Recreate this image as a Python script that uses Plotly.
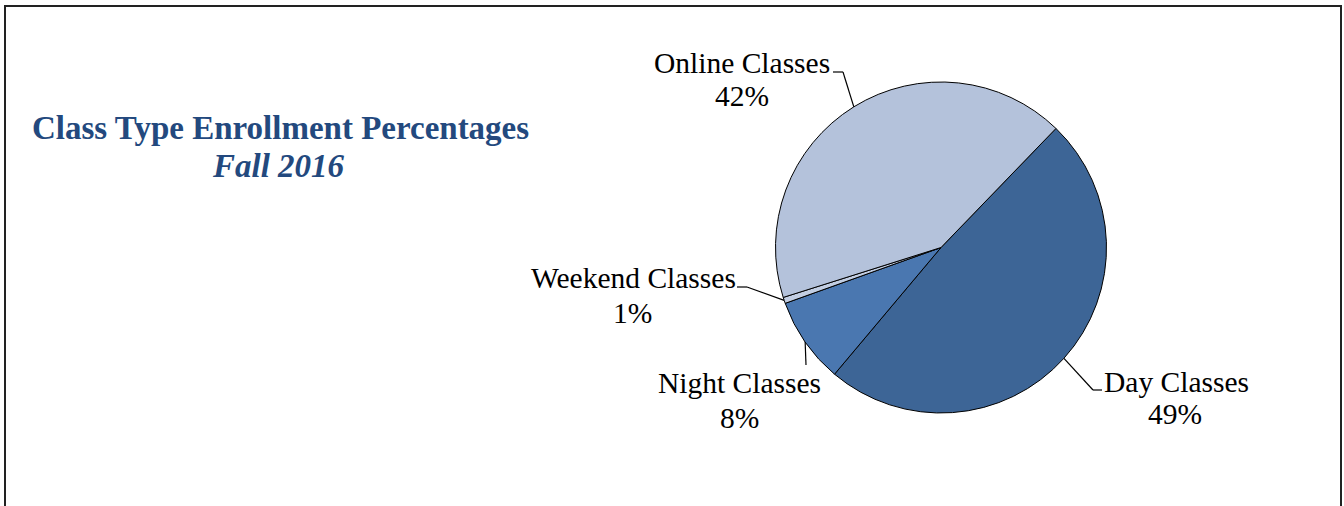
import math
import plotly.graph_objects as go

# ---- data ----
categories = ["Day Classes", "Night Classes", "Weekend Classes", "Online Classes"]
values = [48.9, 8.4, 0.6, 42.1]
colors = ["#3D6596", "#4A77B0", "#C2CEE3", "#B4C2DB"]
title_line1 = "Class Type Enrollment Percentages"
title_line2 = "Fall 2016"

# ---- layout constants (pixels) ----
W, H = 1344, 506
CX, CY, R = 941, 247.5, 165.5
START_ANGLE = 44.0  # degrees clockwise from 12 o'clock

def px(x):
    return x / W

def py(y):
    return 1 - y / H

# label placement (pixel centres) and leader-line elbows
label_pos = {
    "Day Classes": dict(name=(1176.5, 382), pct=(1175, 414), elbow=[(1093, 390), (1102, 390)]),
    "Night Classes": dict(name=(739.5, 383), pct=(739.5, 418), elbow=[(806, 365)]),
    "Weekend Classes": dict(name=(633, 278), pct=(632.5, 313), elbow=[(747, 287), (737, 287)]),
    "Online Classes": dict(name=(742.5, 63), pct=(741.5, 96), elbow=[(843, 72), (833, 72)]),
}

fig = go.Figure()
fig.add_trace(go.Pie(
    labels=categories,
    values=values,
    sort=False,
    direction="clockwise",
    rotation=START_ANGLE,
    marker=dict(colors=colors, line=dict(color="#000000", width=1)),
    textinfo="none",
    hoverinfo="label+percent",
    showlegend=False,
    domain=dict(x=[px(CX - R), px(CX + R)], y=[py(CY + R), py(CY - R)]),
))

annotations = []
shapes = []
font_lbl = dict(family="Liberation Serif", size=29.5, color="#000000")
total = sum(values)
cum = 0.0
for cat, v in zip(categories, values):
    mid = START_ANGLE + (cum + v / 2) / total * 360.0
    cum += v
    a = math.radians(mid)
    ex, ey = CX + R * math.sin(a), CY - R * math.cos(a)
    lp = label_pos[cat]
    pts = [(ex, ey)] + lp["elbow"]
    for (x0, y0), (x1, y1) in zip(pts[:-1], pts[1:]):
        shapes.append(dict(type="line", xref="paper", yref="paper",
                           x0=px(x0), y0=py(y0), x1=px(x1), y1=py(y1),
                           line=dict(color="#000000", width=1.2)))
    annotations.append(dict(text=cat, x=px(lp["name"][0]), y=py(lp["name"][1]),
                            xref="paper", yref="paper", xanchor="center", yanchor="middle",
                            showarrow=False, font=font_lbl))
    annotations.append(dict(text=f"{round(v)}%", x=px(lp["pct"][0]), y=py(lp["pct"][1]),
                            xref="paper", yref="paper", xanchor="center", yanchor="middle",
                            showarrow=False, font=font_lbl))

font_title = dict(family="Liberation Serif", size=33, color="#23497E")
annotations.append(dict(text=f"<b>{title_line1}</b>", x=px(280.5), y=py(127.5),
                        xref="paper", yref="paper", xanchor="center", yanchor="middle",
                        showarrow=False, font=font_title))
annotations.append(dict(text=f"<b><i>{title_line2}</i></b>", x=px(278), y=py(165.5),
                        xref="paper", yref="paper", xanchor="center", yanchor="middle",
                        showarrow=False, font=font_title))

# outer frame
shapes.append(dict(type="rect", xref="paper", yref="paper",
                   x0=px(5), x1=px(1341), y0=-0.1, y1=py(6),
                   line=dict(color="#222222", width=2), fillcolor="rgba(0,0,0,0)"))

fig.update_layout(
    width=W, height=H,
    margin=dict(l=0, r=0, t=0, b=0),
    paper_bgcolor="#FFFFFF",
    plot_bgcolor="#FFFFFF",
    annotations=annotations,
    shapes=shapes,
)

fig.write_html("out.html", config={"displayModeBar": False},
               post_script="document.body.style.margin='0';document.body.style.overflow='hidden';")
